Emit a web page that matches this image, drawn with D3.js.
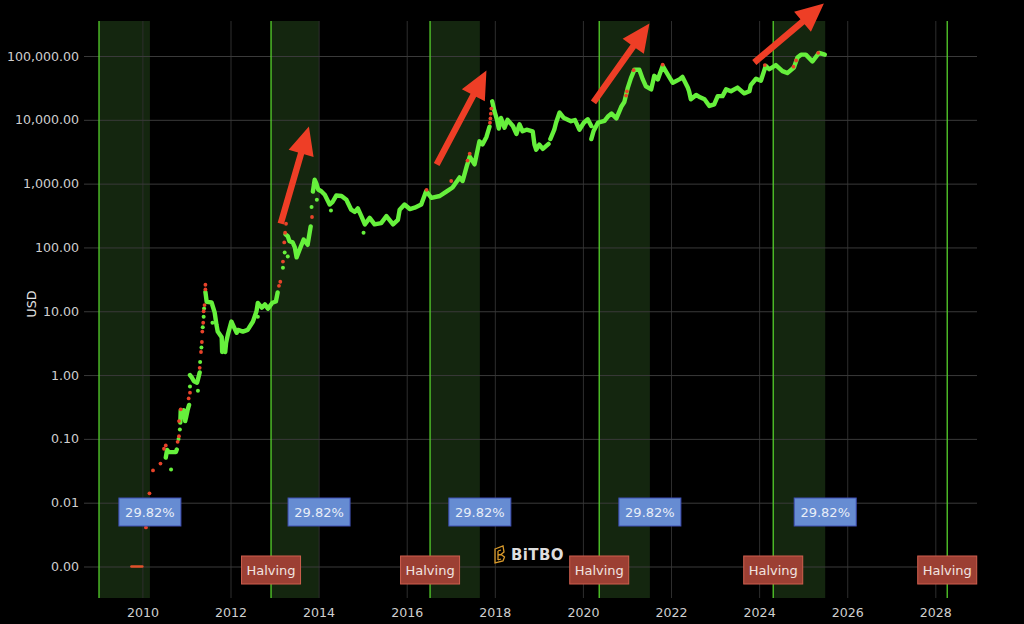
<!DOCTYPE html>
<html>
<head>
<meta charset="utf-8">
<script src="https://cdn.jsdelivr.net/npm/d3@7/dist/d3.min.js"></script>
<style>
  html, body { margin: 0; background: #000; }
  text { font-family: "DejaVu Sans", sans-serif; }
</style>
</head>
<body>
<script>
// price trail. null = gap in the line
var trailYears = [
  2010.53, 2010.56, 2010.60, 2010.67, 2010.76, 2010.78, null,
  2010.86, 2010.87, 2010.90, 2010.94, 2010.97, 2010.99, 2011.03, 2011.06, null,
  2011.08, 2011.12, 2011.17, 2011.24, 2011.26, 2011.30, null,
  2011.43, 2011.46, 2011.57, 2011.64, 2011.68, 2011.71, 2011.80, 2011.81, 2011.84, 2011.88, 2011.90, 2011.94,
  2012.02, 2012.07, 2012.14, 2012.17, 2012.28, 2012.39, 2012.51, 2012.59, 2012.62, 2012.71, 2012.78, 2012.85, 2012.95,
  2013.03, 2013.07, null,
  2013.25, 2013.30, 2013.34, 2013.41, 2013.46, 2013.50, 2013.57, 2013.66, 2013.75, 2013.82, null,
  2013.87, 2013.91, 2013.95, 2013.99, 2014.06, 2014.14, 2014.25, 2014.32, 2014.40, 2014.52, 2014.63, 2014.74, 2014.82, 2014.89, 2014.97,
  2015.05, 2015.16, 2015.27, 2015.42, 2015.54, 2015.69, 2015.80, 2015.84, 2015.95,
  2016.07, 2016.18, 2016.33, 2016.44, 2016.56, 2016.75, 2016.90,
  2017.04, 2017.20, 2017.27, 2017.36, 2017.43, 2017.54, 2017.65, 2017.72, 2017.81, 2017.88, null,
  2017.94, 2017.99, 2018.05, 2018.09, 2018.14, 2018.22, 2018.29, 2018.41, 2018.49, 2018.56, 2018.63, 2018.72, 2018.86, 2018.90, 2018.94,
  2019.01, 2019.09, 2019.22, null,
  2019.26, 2019.35, 2019.39, 2019.47, 2019.56, 2019.73, 2019.82, 2019.92,
  2020.02, 2020.11, 2020.19, null,
  2020.19, 2020.24, 2020.34, 2020.49, 2020.58, 2020.65, 2020.76, 2020.87, 2020.94,
  2021.02, 2021.09, 2021.17, 2021.28, 2021.36, 2021.43, 2021.55, 2021.62, 2021.70, 2021.81, 2021.92,
  2022.04, 2022.19, 2022.26, 2022.38, 2022.41, 2022.45, 2022.57, 2022.66, 2022.76, 2022.87, 2022.98,
  2023.06, 2023.17, 2023.25, 2023.36, 2023.51, 2023.66, 2023.78, 2023.81, 2023.93,
  2024.04, 2024.15, 2024.23, 2024.38, 2024.53, 2024.64, 2024.79, 2024.87, 2024.95,
  2025.06, 2025.21, 2025.36, 2025.49
];
var trailPrices = [
  0.051, 0.067, 0.062, 0.062, 0.062, 0.068, null,
  0.18, 0.28, 0.24, 0.28, 0.19, 0.215, 0.29, 0.34, null,
  1.0, 0.92, 0.8, 0.76, 0.85, 1.1, null,
  20, 14, 13.7, 9.6, 6.2, 4.8, 3.9, 2.3, 3.1, 2.3, 3.2, 4.3,
  6.9, 5.8, 4.6, 5.1, 4.8, 5.1, 6.9, 10, 13.5, 11.4, 12.8, 11, 13.6,
  14.2, 19.7, null,
  160, 150, 125, 120, 100, 70, 93, 133, 110, 213, null,
  750, 1150, 1000, 810, 760, 670, 470, 520, 650, 640, 560, 390, 360, 410, 310,
  230, 290, 230, 240, 310, 230, 270, 390, 470,
  400, 420, 470, 760, 600, 640, 750,
  870, 1250, 1100, 1850, 2650, 2000, 4600, 4100, 5400, 7800, null,
  19500, 13800, 10000, 7300, 10700, 7500, 10000, 8000, 6000, 8500, 6600, 7000, 6600, 4100, 3400,
  4100, 3500, 4200, null,
  5000, 7000, 9000, 13000, 10800, 9500, 9900, 7000,
  9000, 10200, 8000, null,
  5000, 6600, 9000, 9600, 11500, 12500, 10500, 16000, 19000,
  32000, 45000, 61000, 61000, 43000, 33500, 30000, 49000, 43000, 70000, 52000,
  38000, 43000, 47000, 32000, 28000, 21000, 24500, 22500, 21000, 16500, 17500,
  23500, 23500, 30000, 28000, 32000, 26000, 28000, 35000, 44000,
  41000, 70000, 62000, 72000, 58000, 54000, 66000, 95000, 105000,
  105000, 82000, 112000, 105000
];

// single green dots off the trail
var looseYears = [2010.65, 2010.82, 2010.85, 2011.08, 2011.26, 2011.31, 2011.34, 2011.37, 2011.39, 2011.40, 2011.59, 2012.62, 2013.19, 2013.23, 2013.30, 2013.84, 2013.96, 2014.28, 2015.02];
var loosePrices = [0.033, 0.10, 0.14, 0.66, 0.57, 1.6, 2.7, 5.6, 8.2, 11, 6.6, 8.2, 48, 83, 72, 430, 560, 380, 170];

// red dots (fast moves)
var redYears = [2010.08, 2010.16, 2010.24, 2010.41, 2010.49, 2010.53, 2010.80, 2010.83, 2010.83, 2010.87, 2011.05, 2011.08, 2011.30, 2011.33, 2011.35, 2011.36, 2011.38, 2011.39, 2011.41, 2011.43, 2011.43, 2013.10, 2013.13, 2013.19, 2013.22, 2013.24, 2013.26, 2013.85, 2016.45, 2017.01, 2017.38, 2017.43, 2017.89, 2017.90, 2017.91, 2017.92, 2020.98, 2021.00, 2021.15, 2021.81, 2024.13, 2024.78, 2024.84, 2025.34];
var redPrices = [0.0041, 0.014, 0.032, 0.041, 0.07, 0.079, 0.09, 0.11, 0.19, 0.29, 0.43, 0.53, 1.3, 2.3, 3.3, 4.8, 6.6, 10, 12.5, 22, 26, 25, 29, 60, 120, 170, 235, 300, 800, 1100, 2300, 2950, 9000, 10500, 12500, 15000, 24000, 28000, 60000, 73000, 72000, 68000, 85000, 112000];

// the flat run at the bottom
var zeroYears = [2009.75, 2010.0];
var zeroPrices = [0.001, 0.001];

// halving dates and end of the shaded run after each
var halvingYears = [2012.92, 2016.53, 2020.37, 2024.32, 2028.27];
var genesisYear = 2009.015;
var bandStarts = [2009.015, 2012.92, 2016.53, 2020.37, 2024.32];
var bandEnds = [2010.17, 2014.01, 2017.66, 2021.52, 2025.5];
var bandLabels = ["29.82%", "29.82%", "29.82%", "29.82%", "29.82%"];

var xTicks = [2010, 2012, 2014, 2016, 2018, 2020, 2022, 2024, 2026, 2028];
var yTicks = [0.001, 0.01, 0.1, 1, 10, 100, 1000, 10000, 100000];

var arrowFromYears = [2013.14, 2016.68, 2020.24, 2023.89];
var arrowFromPrices = [237, 1990, 18700, 79000];
var arrowToYears = [2013.78, 2017.81, 2021.51, 2025.47];
var arrowToPrices = [7850, 59300, 323000, 662000];

var left = 84, right = 977, top_ = 21, bottom = 598;

var x = d3.scaleLinear().domain([2008.674, 2028.946]).range([left, right]);
var y = d3.scaleLog().domain([0.000321, 353600]).range([bottom, top_]);

var svg = d3.select("body").append("svg")
    .attr("width", 1024)
    .attr("height", 624)
    .style("display", "block");

// bands first so the grid shows through
svg.append("g").selectAll("rect")
    .data(bandStarts)
    .enter()
  .append("rect")
    .attr("x", function(d) { return x(d); })
    .attr("y", top_)
    .attr("width", function(d, i) { return x(bandEnds[i]) - x(d); })
    .attr("height", bottom - top_)
    .attr("fill", "#14260f");

var xAxis = svg.append("g")
    .attr("transform", "translate(0," + bottom + ")")
    .call(d3.axisBottom(x).tickValues(xTicks).tickFormat(d3.format("d")).tickSize(top_ - bottom));
xAxis.selectAll("text").attr("y", 19).attr("dy", 0);
xAxis.selectAll(".tick line").attr("stroke", "#2e2e2e");

var yAxis = svg.append("g")
    .attr("transform", "translate(" + left + ",0)")
    .call(d3.axisLeft(y).tickValues(yTicks).tickFormat(d3.format(",.2f")).tickSize(left - right).tickPadding(5));
yAxis.selectAll(".tick line").attr("stroke", "#3a3a3a");

svg.selectAll(".domain").remove();
svg.selectAll(".tick text").attr("fill", "#cfcfcf").style("font-size", "12.6px").style("font-family", '"DejaVu Sans", sans-serif');

svg.append("text")
    .attr("transform", "translate(36,304) rotate(-90)")
    .attr("text-anchor", "middle")
    .attr("fill", "#e6e6e6")
    .style("font-size", "12.6px")
    .text("USD");

// green verticals
svg.append("g").selectAll("line")
    .data([genesisYear].concat(halvingYears))
    .enter()
  .append("line")
    .attr("x1", function(d) { return x(d); })
    .attr("x2", function(d) { return x(d); })
    .attr("y1", top_)
    .attr("y2", bottom)
    .attr("stroke", "#55d02b")
    .attr("stroke-width", 1.3);

// logo
var logo = svg.append("g");
logo.append("path")
    .attr("d", "M495 549 L503 546 L504 552 L501 554.5 L504.5 557 L503 561 L495 563 Z M498 551 L501 550 M498 551 L498 560 M498 555 L501 554.5 M498 560 L501 559")
    .attr("fill", "none")
    .attr("stroke", "#d99a2b")
    .attr("stroke-width", 1.3);
logo.append("text")
    .attr("x", 511)
    .attr("y", 560)
    .attr("fill", "#dedede")
    .style("font-size", "15px")
    .style("font-weight", "bold")
    .style("letter-spacing", "0.4px")
    .text("BiTBO");

var trailLine = d3.line()
    .defined(function(d) { return trailYears[d] !== null; })
    .x(function(d) { return x(trailYears[d]); })
    .y(function(d) { return y(trailPrices[d]); });

svg.append("path")
    .attr("d", trailLine(d3.range(trailYears.length)))
    .attr("fill", "none")
    .attr("stroke", "#66f03c")
    .attr("stroke-width", 4.4)
    .attr("stroke-linejoin", "round")
    .attr("stroke-linecap", "round");

svg.append("g").selectAll("circle")
    .data(d3.range(looseYears.length))
    .enter()
  .append("circle")
    .attr("cx", function(d) { return x(looseYears[d]); })
    .attr("cy", function(d) { return y(loosePrices[d]); })
    .attr("r", 2)
    .attr("fill", "#66f03c");

svg.append("line")
    .attr("x1", x(zeroYears[0]))
    .attr("x2", x(zeroYears[1]))
    .attr("y1", y(zeroPrices[0]))
    .attr("y2", y(zeroPrices[1]))
    .attr("stroke", "#e0512b")
    .attr("stroke-width", 2.4)
    .attr("stroke-linecap", "round");

svg.append("g").selectAll("circle")
    .data(d3.range(redYears.length))
    .enter()
  .append("circle")
    .attr("cx", function(d) { return x(redYears[d]); })
    .attr("cy", function(d) { return y(redPrices[d]); })
    .attr("r", 1.9)
    .attr("fill", "#e8432a");

// big arrows
function arrowPath(i) {
  var x0 = x(arrowFromYears[i]), y0 = y(arrowFromPrices[i]);
  var x1 = x(arrowToYears[i]), y1 = y(arrowToPrices[i]);
  var len = Math.sqrt((x1 - x0) * (x1 - x0) + (y1 - y0) * (y1 - y0));
  var ux = (x1 - x0) / len, uy = (y1 - y0) / len;
  var nx = -uy, ny = ux;
  var headLen = 28, headHalf = 13, shaftHalf = 3.2;
  var bx = x1 - ux * headLen, by = y1 - uy * headLen;
  var pts = [
    [x0 + nx * shaftHalf, y0 + ny * shaftHalf],
    [bx + nx * shaftHalf, by + ny * shaftHalf],
    [bx + nx * headHalf, by + ny * headHalf],
    [x1, y1],
    [bx - nx * headHalf, by - ny * headHalf],
    [bx - nx * shaftHalf, by - ny * shaftHalf],
    [x0 - nx * shaftHalf, y0 - ny * shaftHalf]
  ];
  return "M" + pts.join("L") + "Z";
}

svg.append("g").selectAll("path")
    .data(d3.range(arrowFromYears.length))
    .enter()
  .append("path")
    .attr("d", arrowPath)
    .attr("fill", "#ee3e26");

// blue boxes sit on the end of each band
var blue = svg.append("g").selectAll("g")
    .data(bandEnds)
    .enter()
  .append("g")
    .attr("transform", function(d) { return "translate(" + x(d) + "," + 512 + ")"; });
blue.append("rect")
    .attr("x", -31).attr("y", -14).attr("width", 62).attr("height", 28)
    .attr("fill", "#668cd2").attr("stroke", "#3f4fb4").attr("stroke-width", 1);
blue.append("text")
    .attr("text-anchor", "middle").attr("dy", 4.6)
    .attr("fill", "#e8eef8")
    .style("font-size", "13px")
    .text(function(d, i) { return bandLabels[i]; });

var red = svg.append("g").selectAll("g")
    .data(halvingYears)
    .enter()
  .append("g")
    .attr("transform", function(d) { return "translate(" + x(d) + "," + 570 + ")"; });
red.append("rect")
    .attr("x", -29.5).attr("y", -14).attr("width", 59).attr("height", 28)
    .attr("fill", "#9c3f33").attr("stroke", "#cf5f4e").attr("stroke-width", 1);
red.append("text")
    .attr("text-anchor", "middle").attr("dy", 4.6)
    .attr("fill", "#f2e4e0")
    .style("font-size", "13px")
    .text("Halving");
</script>
</body>
</html>
